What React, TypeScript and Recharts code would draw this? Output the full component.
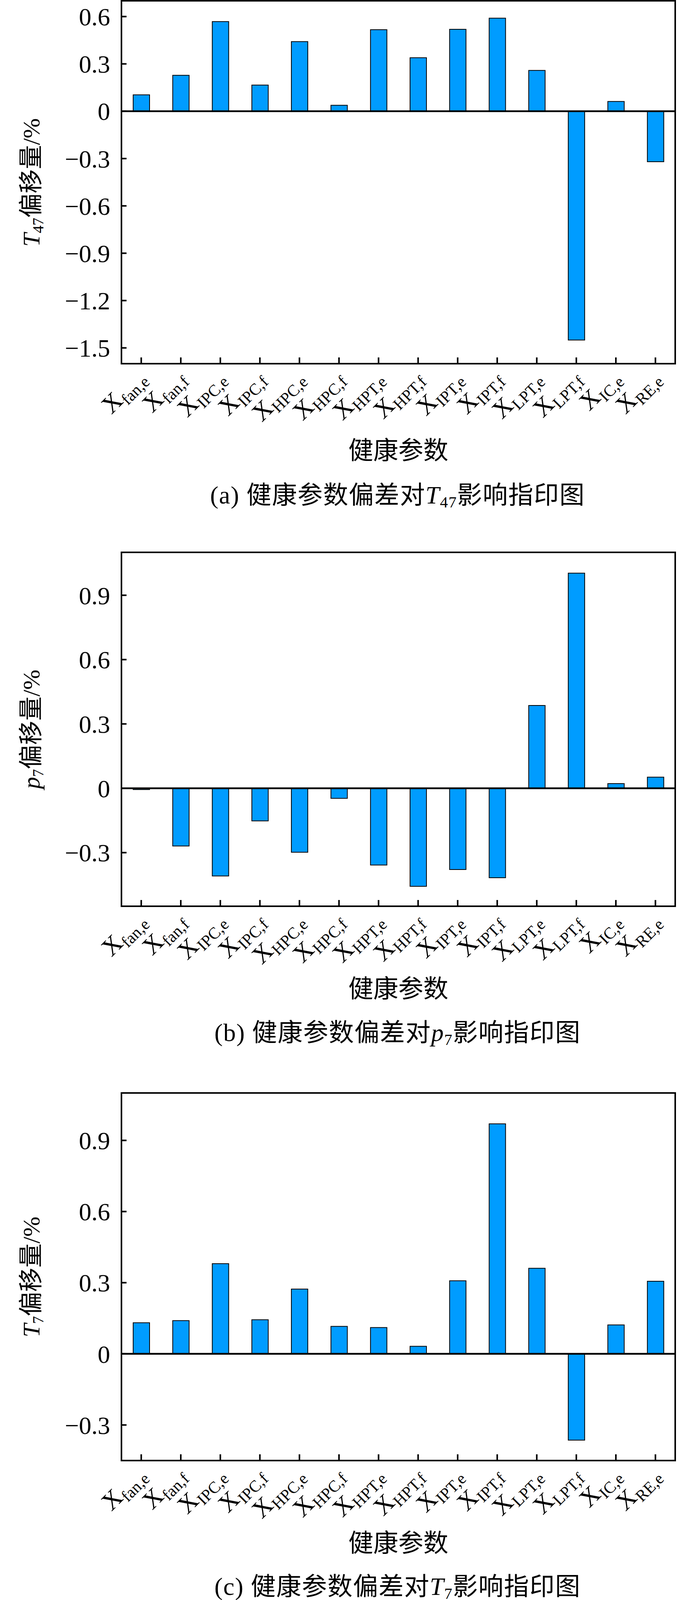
import React from 'react'
import { BarChart, Bar, XAxis, YAxis, ReferenceLine, ReferenceArea } from 'recharts'

const FONT = '"Liberation Serif", "Times New Roman", "Noto Sans CJK SC", serif'

// health parameter subscripts (category labels are X with these as subscripts)
const paramSubs = [
  'fan,e', 'fan,f', 'IPC,e', 'IPC,f', 'HPC,e', 'HPC,f', 'HPT,e',
  'HPT,f', 'IPT,e', 'IPT,f', 'LPT,e', 'LPT,f', 'IC,e', 'RE,e',
]

// (a) T47 shift, %
const t47Shift = [0.104, 0.228, 0.568, 0.166, 0.441, 0.038, 0.517, 0.339, 0.519, 0.59, 0.259, -1.45, 0.062, -0.32]
// (b) p7 shift, %
const p7Shift = [-0.006, -0.269, -0.409, -0.152, -0.298, -0.047, -0.358, -0.457, -0.379, -0.417, 0.386, 1.003, 0.022, 0.052]
// (c) T7 shift, %
const t7Shift = [0.131, 0.14, 0.38, 0.144, 0.273, 0.116, 0.111, 0.032, 0.308, 0.97, 0.361, -0.364, 0.122, 0.306]

const t47Ticks = [0.6, 0.3, 0, -0.3, -0.6, -0.9, -1.2, -1.5]
const p7Ticks = [0.9, 0.6, 0.3, 0, -0.3]
const t7Ticks = [0.9, 0.6, 0.3, 0, -0.3]

const axisTitle = '健康参数'

const fmt = (v: number) => (v === 0 ? '0' : (v < 0 ? '\u2212' : '') + Math.abs(v).toFixed(1))

function XTick({ x, y, payload }: any) {
  return (
    <g transform={`translate(${x + 15},${y + 40}) rotate(-45)`}>
      <text textAnchor="end" fontFamily={FONT} fill="#000">
        <tspan fontSize={64}>X</tspan>
        <tspan fontSize={42} dy={13}>{payload.value}</tspan>
      </text>
    </g>
  )
}

interface PanelProps {
  values: number[]
  domain: [number, number]
  ticks: number[]
  plotTop: number
  plotBottom: number
  padTop: number
  yLabel: React.ReactNode
  caption: React.ReactNode
  titleY: number
  captionY: number
}

function Panel({ values, domain, ticks, plotTop, plotBottom, padTop, yLabel, caption, titleY, captionY }: PanelProps) {
  const data = paramSubs.map((s, i) => ({ name: s, v: values[i] }))
  const top = plotTop - padTop
  const height = plotBottom + 180 - top
  const axisStyle = { stroke: '#000', strokeWidth: 4 }
  return (
    <>
      <div style={{ position: 'absolute', left: 0, top, width: 1772, height }}>
        <BarChart width={1772} height={height} data={data} margin={{ top: padTop, right: 43, bottom: 0, left: 0 }}>
          <XAxis dataKey="name" height={180} interval={0} tick={<XTick />} tickSize={-16} tickMargin={16}
            axisLine={axisStyle} tickLine={axisStyle} />
          <YAxis width={311} domain={domain} ticks={ticks} interval={0} allowDataOverflow tickFormatter={fmt}
            tickSize={-13} tickMargin={42} axisLine={axisStyle} tickLine={axisStyle}
            tick={{ fontSize: 64, fill: '#000', fontFamily: FONT }} />
          <ReferenceArea y1={domain[0]} y2={domain[1]} fill="none" fillOpacity={0} stroke="#000" strokeWidth={4} ifOverflow="visible" />
          <Bar dataKey="v" fill="#009CFF" stroke="#000" strokeWidth={2} barSize={42} isAnimationActive={false} />
          <ReferenceLine y={0} stroke="#000" strokeWidth={4.5} />
        </BarChart>
      </div>
      <div style={{ position: 'absolute', left: 80, top: (plotTop + plotBottom) / 2, transform: 'translate(-50%,-50%) rotate(-90deg)',
        whiteSpace: 'nowrap', fontFamily: FONT, fontSize: 62, lineHeight: 1, color: '#000' }}>
        {yLabel}
      </div>
      <div style={{ position: 'absolute', left: 1020, top: titleY, transform: 'translate(-50%,-50%)',
        whiteSpace: 'nowrap', fontFamily: FONT, fontSize: 64, lineHeight: 1, color: '#000' }}>
        {axisTitle}
      </div>
      <div style={{ position: 'absolute', left: 1018, top: captionY, transform: 'translate(-50%,-50%)',
        whiteSpace: 'nowrap', fontFamily: FONT, fontSize: 64, letterSpacing: 1.5, lineHeight: 1, color: '#000' }}>
        {caption}
      </div>
    </>
  )
}

const subStyle: React.CSSProperties = { fontSize: '0.64em', verticalAlign: '-0.25em', lineHeight: 0 }

export default function App() {
  return (
    <div style={{ position: 'absolute', left: 0, top: 0, width: 1772, height: 4135, background: '#fff', overflow: 'hidden' }}>
      <Panel values={t47Shift} domain={[-1.6, 0.7]} ticks={t47Ticks} plotTop={2} plotBottom={931} padTop={2}
        titleY={1154} captionY={1268}
        yLabel={<><i>T</i><span style={subStyle}>47</span>偏移量/%</>}
        caption={<>(a) 健康参数偏差对<i>T</i><span style={subStyle}>47</span>影响指印图</>} />
      <Panel values={p7Shift} domain={[-0.55, 1.1]} ticks={p7Ticks} plotTop={1414} plotBottom={2320} padTop={20}
        titleY={2532} captionY={2644}
        yLabel={<><i>p</i><span style={subStyle}>7</span>偏移量/%</>}
        caption={<>(b) 健康参数偏差对<i>p</i><span style={subStyle}>7</span>影响指印图</>} />
      <Panel values={t7Shift} domain={[-0.45, 1.1]} ticks={t7Ticks} plotTop={2798} plotBottom={3739} padTop={20}
        titleY={3951} captionY={4062}
        yLabel={<><i>T</i><span style={subStyle}>7</span>偏移量/%</>}
        caption={<>(c) 健康参数偏差对<i>T</i><span style={subStyle}>7</span>影响指印图</>} />
    </div>
  )
}
